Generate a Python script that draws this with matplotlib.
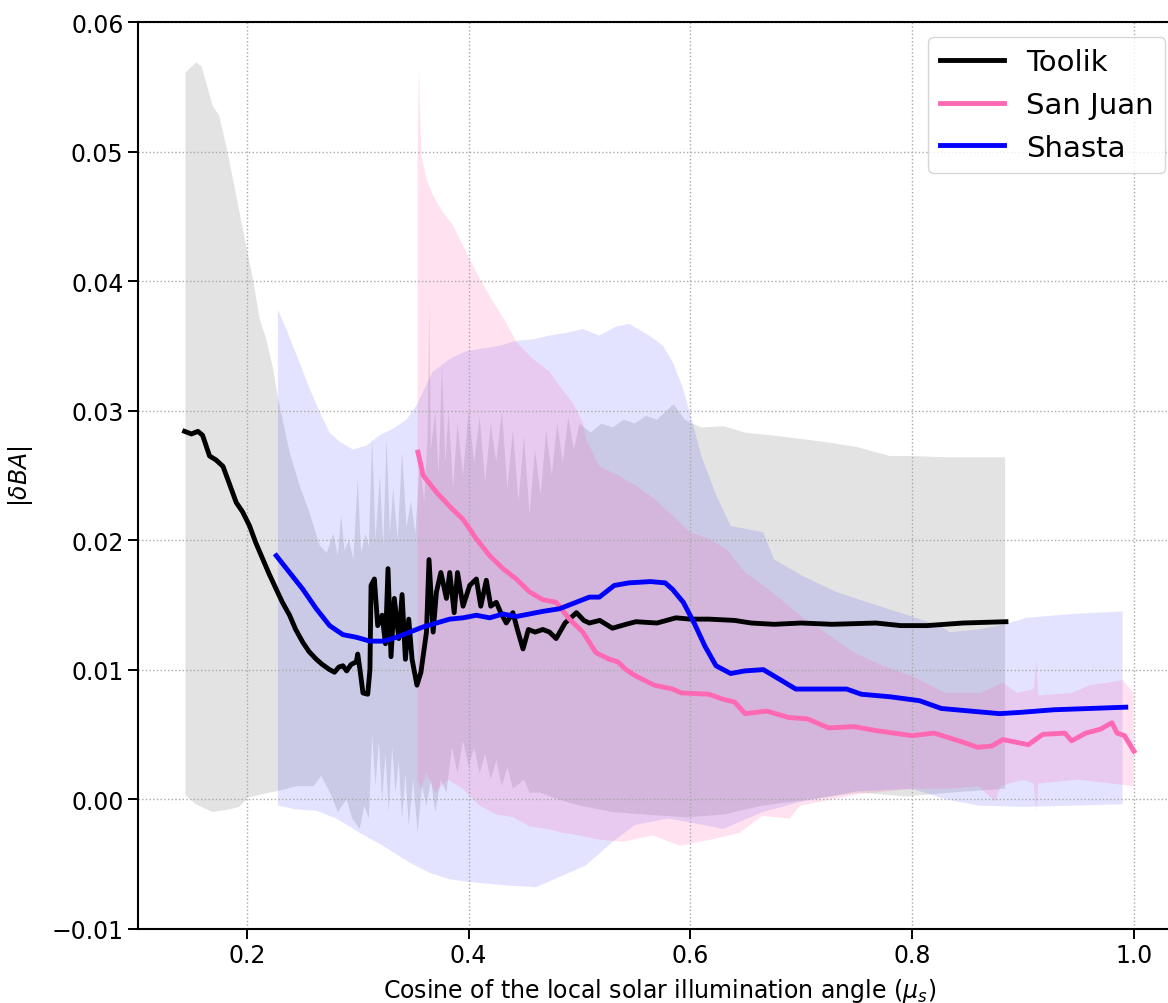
import numpy as np
import matplotlib.pyplot as plt

# mean |dBA| per site
tk_x = [0.1438, 0.1500, 0.1558, 0.1600, 0.1663, 0.1720, 0.1784, 0.1840, 0.1904, 0.1960,
        0.2024, 0.2080, 0.2145, 0.2200, 0.2265, 0.2320, 0.2385, 0.2440, 0.2505, 0.2560,
        0.2626, 0.2680, 0.2746, 0.2790, 0.2830, 0.2866, 0.2900, 0.2940, 0.2987, 0.3000,
        0.3020, 0.3047, 0.3090, 0.3110, 0.3120, 0.3150, 0.3180, 0.3220, 0.3250, 0.3273,
        0.3300, 0.3330, 0.3370, 0.3400, 0.3430, 0.3460, 0.3490, 0.3534, 0.3570, 0.3620,
        0.3643, 0.3680, 0.3710, 0.3750, 0.3800, 0.3830, 0.3870, 0.3900, 0.3950, 0.4010,
        0.4070, 0.4110, 0.4160, 0.4200, 0.4250, 0.4290, 0.4340, 0.4400, 0.4440, 0.4491,
        0.4540, 0.4600, 0.4670, 0.4730, 0.4790, 0.4870, 0.4910, 0.4973, 0.5040, 0.5090,
        0.5183, 0.5298, 0.5420, 0.5510, 0.5700, 0.5870, 0.6000, 0.6167, 0.6400, 0.6550,
        0.6757, 0.7000, 0.7280, 0.7675, 0.7900, 0.8135, 0.8460, 0.8848]
tk_y = [0.0284, 0.0282, 0.0284, 0.0281, 0.0265, 0.0262, 0.0257, 0.0244, 0.0229, 0.0222,
        0.0211, 0.0198, 0.0185, 0.0174, 0.0162, 0.0152, 0.0142, 0.0131, 0.0121, 0.0114,
        0.0108, 0.0104, 0.0100, 0.0098, 0.0102, 0.0103, 0.0099, 0.0104, 0.0106, 0.0112,
        0.0100, 0.0082, 0.0081, 0.0100, 0.0165, 0.0170, 0.0134, 0.0142, 0.0120, 0.0178,
        0.0110, 0.0155, 0.0124, 0.0158, 0.0108, 0.0139, 0.0108, 0.0088, 0.0098, 0.0129,
        0.0185, 0.0129, 0.0160, 0.0175, 0.0155, 0.0175, 0.0144, 0.0175, 0.0149, 0.0165,
        0.0170, 0.0149, 0.0169, 0.0149, 0.0152, 0.0144, 0.0136, 0.0144, 0.0131, 0.0116,
        0.0131, 0.0129, 0.0131, 0.0129, 0.0124, 0.0136, 0.0139, 0.0144, 0.0138, 0.0136,
        0.0138, 0.0132, 0.0135, 0.0137, 0.0136, 0.0140, 0.0139, 0.0139, 0.0138, 0.0136,
        0.0135, 0.0136, 0.0135, 0.0136, 0.0134, 0.0134, 0.0136, 0.0137]

sj_x = [0.3543, 0.3590, 0.3710, 0.3830, 0.3950, 0.4070, 0.4190, 0.4310, 0.4430, 0.4550,
        0.4670, 0.4790, 0.4910, 0.5030, 0.5150, 0.5270, 0.5347, 0.5420, 0.5510, 0.5675,
        0.5840, 0.5920, 0.6167, 0.6300, 0.6400, 0.6494, 0.6690, 0.6889, 0.7055, 0.7248,
        0.7478, 0.7670, 0.8000, 0.8200, 0.8460, 0.8590, 0.8720, 0.8820, 0.9050, 0.9180,
        0.9380, 0.9440, 0.9570, 0.9700, 0.9804, 0.9850, 0.9917, 1.0003]
sj_y = [0.0268, 0.0250, 0.0237, 0.0226, 0.0216, 0.0201, 0.0188, 0.0178, 0.0170, 0.0160,
        0.0154, 0.0152, 0.0139, 0.0129, 0.0113, 0.0108, 0.0106, 0.0100, 0.0095, 0.0088,
        0.0085, 0.0082, 0.0081, 0.0077, 0.0075, 0.0066, 0.0068, 0.0063, 0.0062, 0.0055,
        0.0056, 0.0053, 0.0049, 0.0051, 0.0044, 0.0040, 0.0041, 0.0046, 0.0042, 0.0050,
        0.0051, 0.0045, 0.0051, 0.0054, 0.0059, 0.0051, 0.0049, 0.0037]

sh_x = [0.2265, 0.2385, 0.2505, 0.2626, 0.2746, 0.2866, 0.2987, 0.3110, 0.3230, 0.3350,
        0.3470, 0.3590, 0.3710, 0.3830, 0.3950, 0.4070, 0.4190, 0.4310, 0.4430, 0.4550,
        0.4670, 0.4820, 0.4970, 0.5090, 0.5180, 0.5314, 0.5445, 0.5643, 0.5774, 0.5840,
        0.5937, 0.6035, 0.6133, 0.6232, 0.6364, 0.6490, 0.6659, 0.6757, 0.6952, 0.7150,
        0.7410, 0.7543, 0.7806, 0.8068, 0.8265, 0.8527, 0.8790, 0.8980, 0.9280, 0.9605,
        0.9929]
sh_y = [0.0188, 0.0175, 0.0162, 0.0147, 0.0134, 0.0127, 0.0125, 0.0122, 0.0122, 0.0125,
        0.0129, 0.0133, 0.0136, 0.0139, 0.0140, 0.0142, 0.0140, 0.0143, 0.0141, 0.0143,
        0.0145, 0.0147, 0.0152, 0.0156, 0.0156, 0.0165, 0.0167, 0.0168, 0.0167, 0.0162,
        0.0152, 0.0136, 0.0118, 0.0103, 0.0097, 0.0099, 0.0100, 0.0095, 0.0085, 0.0085,
        0.0085, 0.0081, 0.0079, 0.0076, 0.0070, 0.0068, 0.0066, 0.0067, 0.0069, 0.0070,
        0.0071]

# spread bands (upper / lower edges)
tk_up_x = [0.1445, 0.1480, 0.1543, 0.1590, 0.1634, 0.1693, 0.1750, 0.1814, 0.1874, 0.1934,
           0.1994, 0.2054, 0.2115, 0.2175, 0.2235, 0.2280, 0.2385, 0.2476, 0.2566, 0.2656,
           0.2720, 0.2780, 0.2820, 0.2850, 0.2880, 0.2920, 0.2960, 0.3000, 0.3030, 0.3070,
           0.3100, 0.3130, 0.3160, 0.3200, 0.3230, 0.3260, 0.3290, 0.3320, 0.3360, 0.3400,
           0.3440, 0.3480, 0.3520, 0.3560, 0.3600, 0.3630, 0.3645, 0.3660, 0.3700, 0.3730,
           0.3760, 0.3790, 0.3820, 0.3860, 0.3900, 0.3950, 0.4000, 0.4050, 0.4100, 0.4150,
           0.4200, 0.4250, 0.4300, 0.4350, 0.4400, 0.4450, 0.4500, 0.4550, 0.4600, 0.4650,
           0.4700, 0.4750, 0.4800, 0.4850, 0.4900, 0.4950, 0.5000, 0.5100, 0.5200, 0.5300,
           0.5400, 0.5500, 0.5600, 0.5700, 0.5850, 0.5950, 0.6100, 0.6300, 0.6500, 0.6830,
           0.7200, 0.7500, 0.7800, 0.8000, 0.8300, 0.8540, 0.8840]
tk_up_y = [0.0561, 0.0564, 0.0569, 0.0566, 0.0553, 0.0535, 0.0528, 0.0504, 0.0479, 0.0453,
           0.0427, 0.0402, 0.0371, 0.0355, 0.0333, 0.0310, 0.0268, 0.0242, 0.0221, 0.0196,
           0.0190, 0.0205, 0.0188, 0.0220, 0.0192, 0.0200, 0.0185, 0.0247, 0.0190, 0.0205,
           0.0195, 0.0278, 0.0200, 0.0250, 0.0195, 0.0278, 0.0205, 0.0240, 0.0200, 0.0268,
           0.0210, 0.0230, 0.0205, 0.0260, 0.0230, 0.0280, 0.0385, 0.0270, 0.0300, 0.0250,
           0.0335, 0.0260, 0.0300, 0.0240, 0.0290, 0.0250, 0.0300, 0.0260, 0.0295, 0.0245,
           0.0290, 0.0260, 0.0300, 0.0240, 0.0285, 0.0230, 0.0280, 0.0220, 0.0270, 0.0235,
           0.0285, 0.0250, 0.0290, 0.0260, 0.0295, 0.0270, 0.0290, 0.0283, 0.0290, 0.0287,
           0.0293, 0.0290, 0.0296, 0.0293, 0.0305, 0.0293, 0.0287, 0.0288, 0.0283, 0.0280,
           0.0276, 0.0272, 0.0265, 0.0265, 0.0264, 0.0264, 0.0264]
tk_lo_x = [0.1445, 0.1540, 0.1690, 0.1840, 0.1930, 0.2009, 0.2145, 0.2265, 0.2446, 0.2600,
           0.2671, 0.2750, 0.2821, 0.2900, 0.2950, 0.3017, 0.3060, 0.3100, 0.3130, 0.3160,
           0.3190, 0.3220, 0.3250, 0.3280, 0.3310, 0.3340, 0.3370, 0.3400, 0.3430, 0.3460,
           0.3500, 0.3540, 0.3580, 0.3620, 0.3660, 0.3700, 0.3750, 0.3800, 0.3850, 0.3900,
           0.3950, 0.4000, 0.4050, 0.4100, 0.4150, 0.4200, 0.4250, 0.4300, 0.4350, 0.4400,
           0.4500, 0.4550, 0.4650, 0.4800, 0.5000, 0.5300, 0.5600, 0.5970, 0.6300, 0.6650,
           0.7100, 0.7530, 0.7950, 0.8340, 0.8840]
tk_lo_y = [0.0003, -0.0004, -0.0010, -0.0008, -0.0006, 0.0001, 0.0004, 0.0006, 0.0010, 0.0010,
           0.0018, 0.0005, -0.0010, 0.0000, -0.0015, -0.0023, -0.0005, -0.0015, 0.0050, 0.0010,
           0.0045, 0.0000, 0.0035, -0.0010, 0.0040, 0.0005, 0.0030, -0.0015, 0.0020, -0.0020,
           0.0015, -0.0026, 0.0010, -0.0005, 0.0015, -0.0010, 0.0015, 0.0005, 0.0040, 0.0020,
           0.0045, 0.0025, 0.0040, 0.0020, 0.0035, 0.0015, 0.0030, 0.0010, 0.0025, 0.0008,
           0.0015, 0.0005, 0.0005, 0.0000, -0.0005, -0.0010, -0.0012, -0.0014, -0.0012, -0.0005,
           0.0000, 0.0005, 0.0002, 0.0005, 0.0008]

sh_up_x = [0.2280, 0.2355, 0.2476, 0.2566, 0.2656, 0.2746, 0.2837, 0.2957, 0.3077, 0.3198,
           0.3318, 0.3439, 0.3529, 0.3676, 0.3830, 0.3980, 0.4280, 0.4430, 0.4580, 0.4730,
           0.4880, 0.5030, 0.5180, 0.5330, 0.5450, 0.5630, 0.5755, 0.5845, 0.5935, 0.5995,
           0.6100, 0.6232, 0.6364, 0.6659, 0.6757, 0.7020, 0.7316, 0.7670, 0.8000, 0.8250,
           0.8340, 0.8600, 0.8840, 0.9030, 0.9450, 0.9900]
sh_up_y = [0.0378, 0.0363, 0.0337, 0.0317, 0.0299, 0.0283, 0.0276, 0.0270, 0.0273, 0.0281,
           0.0286, 0.0293, 0.0304, 0.0330, 0.0340, 0.0346, 0.0350, 0.0354, 0.0355, 0.0358,
           0.0360, 0.0363, 0.0358, 0.0365, 0.0367, 0.0358, 0.0350, 0.0337, 0.0317, 0.0299,
           0.0265, 0.0235, 0.0211, 0.0206, 0.0185, 0.0172, 0.0160, 0.0150, 0.0141, 0.0134,
           0.0129, 0.0131, 0.0135, 0.0140, 0.0143, 0.0145]
sh_lo_x = [0.2280, 0.2446, 0.2626, 0.2807, 0.3017, 0.3228, 0.3468, 0.3649, 0.3830, 0.4010,
           0.4250, 0.4400, 0.4610, 0.4850, 0.5060, 0.5300, 0.5500, 0.5800, 0.6000, 0.6300,
           0.6650, 0.7000, 0.7500, 0.8000, 0.8300, 0.8600, 0.9000, 0.9500, 0.9900]
sh_lo_y = [-0.0005, -0.0008, -0.0009, -0.0015, -0.0026, -0.0036, -0.0049, -0.0057, -0.0062, -0.0064,
           -0.0066, -0.0067, -0.0068, -0.0059, -0.0051, -0.0033, -0.0020, -0.0015, -0.0018, -0.0023,
           -0.0010, -0.0002, 0.0006, 0.0008, 0.0000, -0.0005, -0.0006, -0.0005, -0.0004]

sj_up_x = [0.3540, 0.3553, 0.3560, 0.3574, 0.3620, 0.3680, 0.3769, 0.3860, 0.3980, 0.4100,
           0.4220, 0.4340, 0.4430, 0.4580, 0.4730, 0.4820, 0.4940, 0.5030, 0.5060, 0.5180,
           0.5350, 0.5510, 0.5675, 0.5840, 0.6000, 0.6167, 0.6330, 0.6494, 0.6660, 0.6823,
           0.6987, 0.7215, 0.7480, 0.7740, 0.8000, 0.8300, 0.8620, 0.8820, 0.8950, 0.9100,
           0.9120, 0.9140, 0.9440, 0.9600, 0.9770, 0.9900, 1.0000]
sj_up_y = [0.0500, 0.0566, 0.0535, 0.0497, 0.0479, 0.0466, 0.0453, 0.0443, 0.0422, 0.0402,
           0.0384, 0.0368, 0.0353, 0.0340, 0.0330, 0.0319, 0.0306, 0.0291, 0.0278, 0.0257,
           0.0250, 0.0242, 0.0232, 0.0219, 0.0206, 0.0201, 0.0193, 0.0175, 0.0165, 0.0154,
           0.0142, 0.0129, 0.0113, 0.0103, 0.0095, 0.0082, 0.0082, 0.0090, 0.0082, 0.0085,
           0.0108, 0.0080, 0.0082, 0.0088, 0.0090, 0.0092, 0.0082]
sj_lo_x = [0.3540, 0.3570, 0.3620, 0.3700, 0.3810, 0.3950, 0.4100, 0.4250, 0.4400, 0.4550,
           0.4700, 0.4850, 0.5000, 0.5150, 0.5390, 0.5660, 0.5906, 0.6200, 0.6445, 0.6650,
           0.6897, 0.6990, 0.7286, 0.7530, 0.8000, 0.8340, 0.8600, 0.8750, 0.8800, 0.9000,
           0.9100, 0.9120, 0.9140, 0.9500, 0.9800, 1.0000]
sj_lo_y = [0.0015, 0.0008, 0.0020, 0.0005, 0.0015, 0.0008, -0.0005, -0.0012, -0.0014, -0.0021,
           -0.0023, -0.0026, -0.0028, -0.0031, -0.0033, -0.0028, -0.0036, -0.0031, -0.0026, -0.0013,
           -0.0015, -0.0005, 0.0000, 0.0004, 0.0008, 0.0008, 0.0010, -0.0002, 0.0010, 0.0015,
           0.0012, -0.0010, 0.0012, 0.0015, 0.0012, 0.0010]


def band(ax, up_x, up_y, lo_x, lo_y, color, alpha):
    # closed polygon: upper edge left->right, lower edge right->left
    xs = np.concatenate([up_x, lo_x[::-1]])
    ys = np.concatenate([up_y, lo_y[::-1]])
    ax.fill(xs, ys, color=color, alpha=alpha, lw=0, zorder=1)


fig = plt.figure(figsize=(11.68, 10.04), dpi=100)
ax = fig.add_axes([0.1182, 0.0741, 0.893, 0.9028])

band(ax, tk_up_x, tk_up_y, tk_lo_x, tk_lo_y, 'black', 0.11)
band(ax, sh_up_x, sh_up_y, sh_lo_x, sh_lo_y, 'blue', 0.11)
band(ax, sj_up_x, sj_up_y, sj_lo_x, sj_lo_y, 'hotpink', 0.2)

ax.plot(tk_x, tk_y, color='black', lw=3.5, label='Toolik', zorder=3)
ax.plot(sj_x, sj_y, color='hotpink', lw=3.5, label='San Juan', zorder=3)
ax.plot(sh_x, sh_y, color='blue', lw=3.5, label='Shasta', zorder=3)

ax.set_xlim(0.1018, 1.0428)
ax.set_ylim(-0.01, 0.06)
ax.set_xticks([0.2, 0.4, 0.6, 0.8, 1.0])
ax.set_yticks([-0.01, 0.0, 0.01, 0.02, 0.03, 0.04, 0.05, 0.06])
ax.set_yticklabels(['\u22120.01', '0.00', '0.01', '0.02', '0.03', '0.04', '0.05', '0.06'])
ax.grid(True, linestyle=':', color='#a8a8a8', lw=1.0)
ax.tick_params(labelsize=17, width=1.4, length=7)
for s in ax.spines.values():
    s.set_linewidth(1.5)
ax.spines['right'].set_visible(False)

ax.set_xlabel(r'Cosine of the local solar illumination angle ($\mu_s$)', fontsize=17, labelpad=6)
ax.set_ylabel(r'$|\delta BA|$', fontsize=17, labelpad=12)

ax.legend(loc='upper right', bbox_to_anchor=(0.985, 0.984), borderaxespad=0,
          fontsize=21, handlelength=2.2, handletextpad=0.75)

fig.savefig('out.png', dpi=100)
